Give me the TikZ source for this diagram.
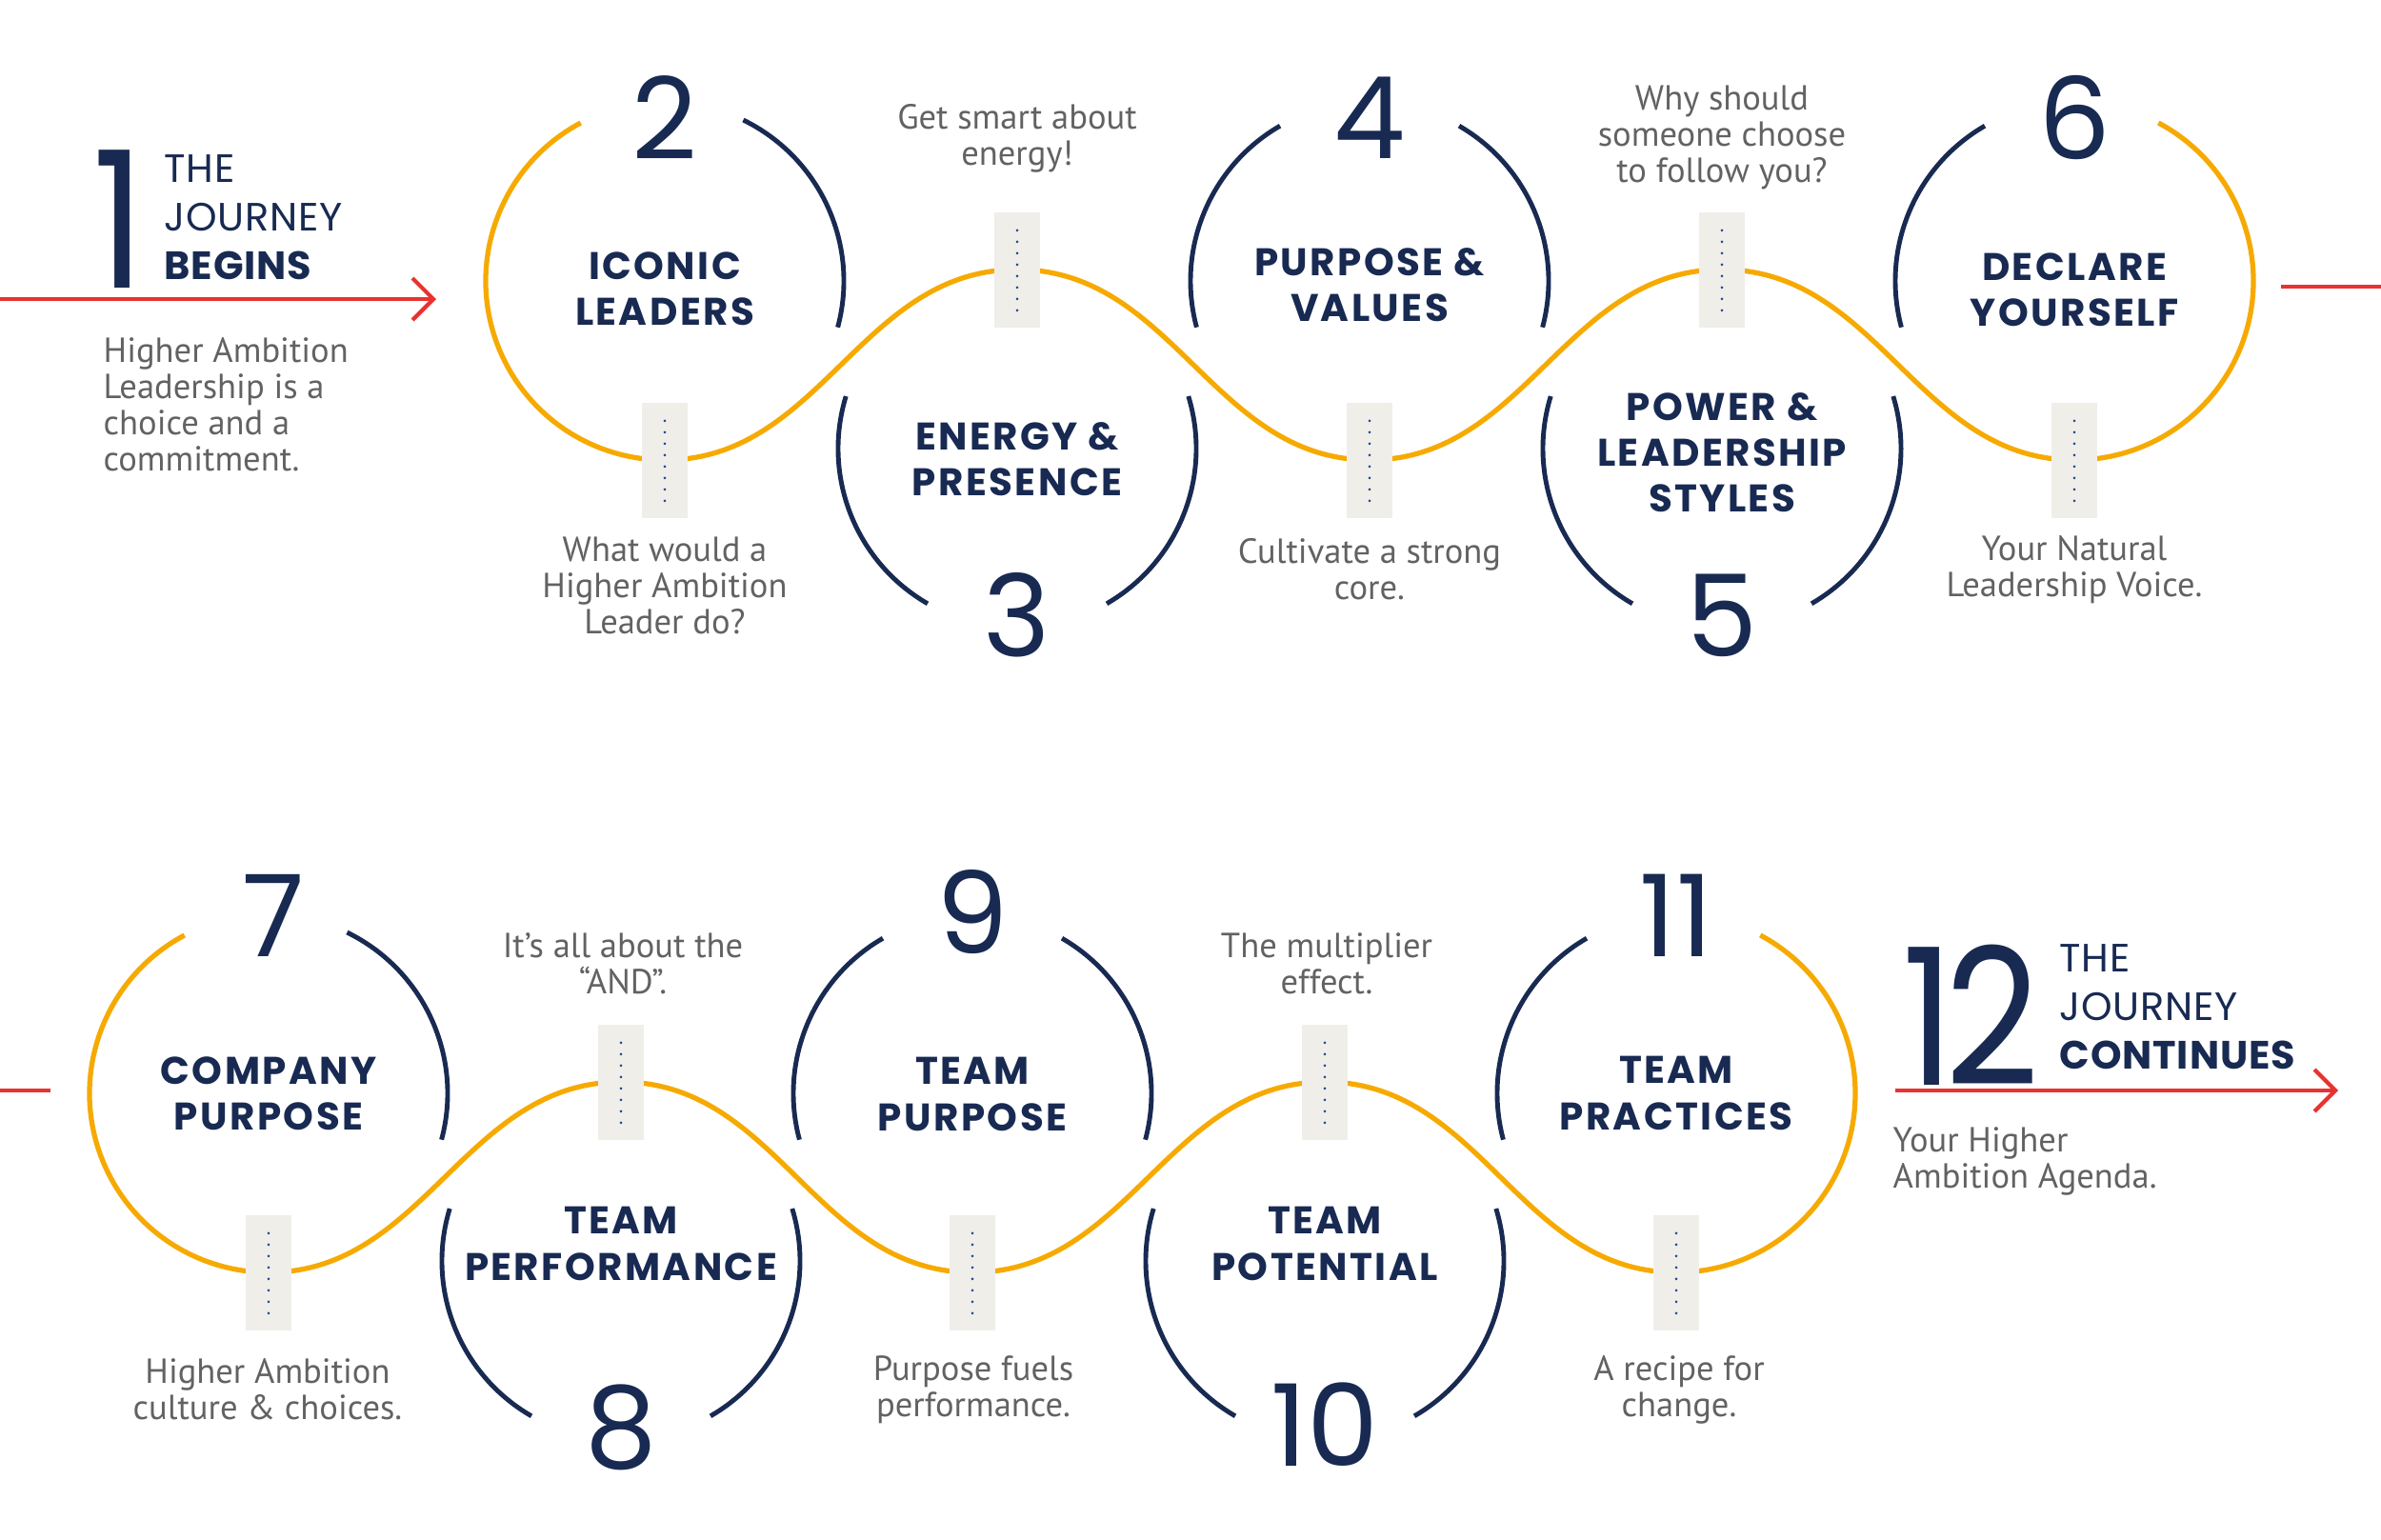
\documentclass[tikz,border=0pt]{standalone}
\usepackage{fontspec}
\setmainfont{PT Sans}
\newfontfamily\headfont[LetterSpace=6]{Poppins}
\newfontfamily\journeyfont[LetterSpace=2]{Poppins}
\newfontfamily\numfont{Poppins}
\newfontfamily\hugefont[FakeStretch=0.86]{Poppins}
\usetikzlibrary{arrows.meta,positioning}

\definecolor{navy}{RGB}{24,42,82}
\definecolor{gold}{RGB}{246,170,0}
\definecolor{redline}{RGB}{232,50,48}
\definecolor{greytext}{RGB}{98,98,98}
\definecolor{tabgrey}{RGB}{239,238,233}
\definecolor{dotblue}{RGB}{30,70,145}

\tikzset{
  title/.style={font=\headfont\bfseries\fontsize{11.5}{13.7}\selectfont, text=navy, align=center, inner sep=0pt},
  caption/.style={font=\fontsize{10.4}{10.8}\selectfont, text=greytext, align=center, inner sep=0pt},
  bignum/.style={font=\numfont\fontsize{34}{34}\selectfont, text=navy, inner sep=0pt},
  hugenum/.style={font=\hugefont\fontsize{57}{57}\selectfont, text=navy, inner sep=0pt},
  journey/.style={font=\journeyfont\fontsize{11.8}{14.5}\selectfont, text=navy, align=left, inner sep=0pt, anchor=west},
  ring/.style={navy, line width=1.4pt},
  wave/.style={gold, line width=1.5pt},
  tab/.style={fill=tabgrey, minimum width=0.48cm, minimum height=1.21cm, inner sep=0pt},
  dots/.style={dotblue, line width=0.85pt, line cap=round, dash pattern=on 0pt off 0.12cm},
  redarrow/.style={redline, line width=1.2pt, -{Straight Barb[length=0.22cm, width=0.44cm]}},
  redstub/.style={redline, line width=1.2pt}
}

\begin{document}
\begin{tikzpicture}
    \useasboundingbox (0,0) rectangle (25,-16.16);

    % Circle centres, top row
    \coordinate (c2) at (6.98,-2.95);
    \coordinate (c3) at (10.68,-4.71);
    \coordinate (c4) at (14.38,-2.95);
    \coordinate (c5) at (18.08,-4.71);
    \coordinate (c6) at (21.78,-2.95);

    % Circle centres, bottom row
    \coordinate (c7) at (2.82,-11.48);
    \coordinate (c8) at (6.52,-13.24);
    \coordinate (c9) at (10.21,-11.48);
    \coordinate (c10) at (13.91,-13.24);
    \coordinate (c11) at (17.60,-11.48);

    % Troughs and crests of the wave
    \coordinate (t2) at (6.98,-4.83);
    \coordinate (k3) at (10.68,-2.83);
    \coordinate (t4) at (14.38,-4.83);
    \coordinate (k5) at (18.08,-2.83);
    \coordinate (t6) at (21.78,-4.83);
    \coordinate (t7) at (2.82,-13.36);
    \coordinate (k8) at (6.52,-11.36);
    \coordinate (t9) at (10.21,-13.36);
    \coordinate (k10) at (13.91,-11.36);
    \coordinate (t11) at (17.60,-13.36);

    % Draw the wave
    \draw[wave] (c2) ++(118:1.88) arc[start angle=118, end angle=270, radius=1.88]
        to[out=0,in=180] (k3) to[out=0,in=180] (t4) to[out=0,in=180] (k5)
        to[out=0,in=180] (t6) arc[start angle=270, end angle=422, radius=1.88];
    \draw[wave] (c7) ++(118:1.88) arc[start angle=118, end angle=270, radius=1.88]
        to[out=0,in=180] (k8) to[out=0,in=180] (t9) to[out=0,in=180] (k10)
        to[out=0,in=180] (t11) arc[start angle=270, end angle=422, radius=1.88];

    % Draw the navy arcs, upper circles
    \draw[ring] (c2) ++(64:1.88) arc[start angle=64, end angle=-15, radius=1.88];
    \draw[ring] (c4) ++(120:1.88) arc[start angle=120, end angle=195, radius=1.88];
    \draw[ring] (c4) ++(60:1.88) arc[start angle=60, end angle=-15, radius=1.88];
    \draw[ring] (c6) ++(120:1.88) arc[start angle=120, end angle=195, radius=1.88];
    \draw[ring] (c7) ++(64:1.88) arc[start angle=64, end angle=-15, radius=1.88];
    \draw[ring] (c9) ++(120:1.88) arc[start angle=120, end angle=195, radius=1.88];
    \draw[ring] (c9) ++(60:1.88) arc[start angle=60, end angle=-15, radius=1.88];
    \draw[ring] (c11) ++(120:1.88) arc[start angle=120, end angle=195, radius=1.88];

    % Draw the navy arcs, lower circles
    \draw[ring] (c3) ++(163:1.88) arc[start angle=163, end angle=240, radius=1.88];
    \draw[ring] (c3) ++(-60:1.88) arc[start angle=-60, end angle=17, radius=1.88];
    \draw[ring] (c5) ++(163:1.88) arc[start angle=163, end angle=240, radius=1.88];
    \draw[ring] (c5) ++(-60:1.88) arc[start angle=-60, end angle=17, radius=1.88];
    \draw[ring] (c8) ++(163:1.88) arc[start angle=163, end angle=240, radius=1.88];
    \draw[ring] (c8) ++(-60:1.88) arc[start angle=-60, end angle=17, radius=1.88];
    \draw[ring] (c10) ++(163:1.88) arc[start angle=163, end angle=240, radius=1.88];
    \draw[ring] (c10) ++(-60:1.88) arc[start angle=-60, end angle=17, radius=1.88];

    % Tabs on the wave
    \node[tab] (tab2) at (t2) {};
    \node[tab] (tab3) at (k3) {};
    \node[tab] (tab4) at (t4) {};
    \node[tab] (tab5) at (k5) {};
    \node[tab] (tab6) at (t6) {};
    \node[tab] (tab7) at (t7) {};
    \node[tab] (tab8) at (k8) {};
    \node[tab] (tab9) at (t9) {};
    \node[tab] (tab10) at (k10) {};
    \node[tab] (tab11) at (t11) {};
    \draw[dots] ([yshift=-0.2cm]tab2.north) -- ([yshift=0.16cm]tab2.south);
    \draw[dots] ([yshift=-0.2cm]tab3.north) -- ([yshift=0.16cm]tab3.south);
    \draw[dots] ([yshift=-0.2cm]tab4.north) -- ([yshift=0.16cm]tab4.south);
    \draw[dots] ([yshift=-0.2cm]tab5.north) -- ([yshift=0.16cm]tab5.south);
    \draw[dots] ([yshift=-0.2cm]tab6.north) -- ([yshift=0.16cm]tab6.south);
    \draw[dots] ([yshift=-0.2cm]tab7.north) -- ([yshift=0.16cm]tab7.south);
    \draw[dots] ([yshift=-0.2cm]tab8.north) -- ([yshift=0.16cm]tab8.south);
    \draw[dots] ([yshift=-0.2cm]tab9.north) -- ([yshift=0.16cm]tab9.south);
    \draw[dots] ([yshift=-0.2cm]tab10.north) -- ([yshift=0.16cm]tab10.south);
    \draw[dots] ([yshift=-0.2cm]tab11.north) -- ([yshift=0.16cm]tab11.south);

    % Label the circles
    \node[title] (lab2) at (6.98,-3.03) {ICONIC\\LEADERS};
    \node[title] (lab3) at (10.68,-4.82) {ENERGY \&\\PRESENCE};
    \node[title] (lab4) at (14.38,-2.99) {PURPOSE \&\\VALUES};
    \node[title] (lab5) at (18.08,-4.75) {POWER \&\\LEADERSHIP\\STYLES};
    \node[title] (lab6) at (21.78,-3.04) {DECLARE\\YOURSELF};
    \node[title] (lab7) at (2.82,-11.48) {COMPANY\\PURPOSE};
    \node[title] (lab8) at (6.52,-13.06) {TEAM\\PERFORMANCE};
    \node[title] (lab9) at (10.21,-11.49) {TEAM\\PURPOSE};
    \node[title] (lab10) at (13.91,-13.06) {TEAM\\POTENTIAL};
    \node[title] (lab11) at (17.60,-11.48) {TEAM\\PRACTICES};

    % Number the circles
    \node[bignum] (n2) at (6.98,-1.24) {2};
    \node[bignum] (n3) at (10.68,-6.46) {3};
    \node[bignum] (n4) at (14.38,-1.24) {4};
    \node[bignum] (n5) at (18.08,-6.46) {5};
    \node[bignum] (n6) at (21.78,-1.24) {6};
    \node[bignum] (n7) at (2.87,-9.61) {7};
    \node[bignum] (n8) at (6.52,-14.99) {8};
    \node[bignum] (n9) at (10.21,-9.58) {9};
    \node[bignum] (n10) at (13.91,-14.96) {10};
    \node[bignum] (n11) at (17.60,-9.61) {11};

    % Captions by the tabs
    \node[caption] (cap2) at (6.98,-6.15) {What would a\\Higher Ambition\\Leader do?};
    \node[caption] (cap3) at (10.68,-1.45) {Get smart about\\energy!};
    \node[caption] (cap4) at (14.38,-5.98) {Cultivate a strong\\core.};
    \node[caption] (cap5) at (18.08,-1.44) {Why should\\someone choose\\to follow you?};
    \node[caption] (cap6) at (21.78,-5.98) {Your Natural\\Leadership Voice.};
    \node[caption] (cap7) at (2.81,-14.59) {Higher Ambition\\culture \& choices.};
    \node[caption] (cap8) at (6.54,-10.12) {It’s all about the\\“AND”.};
    \node[caption] (cap9) at (10.22,-14.59) {Purpose fuels\\performance.};
    \node[caption] (cap10) at (13.93,-10.12) {The multiplier\\effect.};
    \node[caption] (cap11) at (17.63,-14.59) {A recipe for\\change.};

    % The journey begins
    \node[hugenum] (one) at (1.25,-2.30) {1};
    \node[journey] (begins) at (1.72,-2.28) {THE\\JOURNEY\\\textbf{BEGINS}};
    \node[caption, align=left, anchor=north west] (intro) at (1.08,-3.54) {Higher Ambition\\Leadership is a\\choice and a\\commitment.};
    \coordinate (in1) at (0,-3.14);
    \coordinate (arr1) at (4.58,-3.14);
    \draw[redarrow] (in1) -- (arr1);
    \coordinate (out1) at (23.95,-3.01);
    \coordinate (edge1) at (25,-3.01);
    \draw[redstub] (out1) -- (edge1);

    % The journey continues
    \coordinate (edge2) at (0,-11.45);
    \coordinate (in2) at (0.53,-11.45);
    \draw[redstub] (edge2) -- (in2);
    \node[hugenum, anchor=east] (twelve) at (21.42,-10.66) {1\kern-3pt 2};
    \node[journey] (continues) at (21.62,-10.57) {THE\\JOURNEY\\\textbf{CONTINUES}};
    \coordinate (out2) at (19.90,-11.45);
    \coordinate (arr2) at (24.55,-11.45);
    \draw[redarrow] (out2) -- (arr2);
    \node[caption, align=left, anchor=north west] (agenda) at (19.87,-11.83) {Your Higher\\Ambition Agenda.};
\end{tikzpicture}
\end{document}
